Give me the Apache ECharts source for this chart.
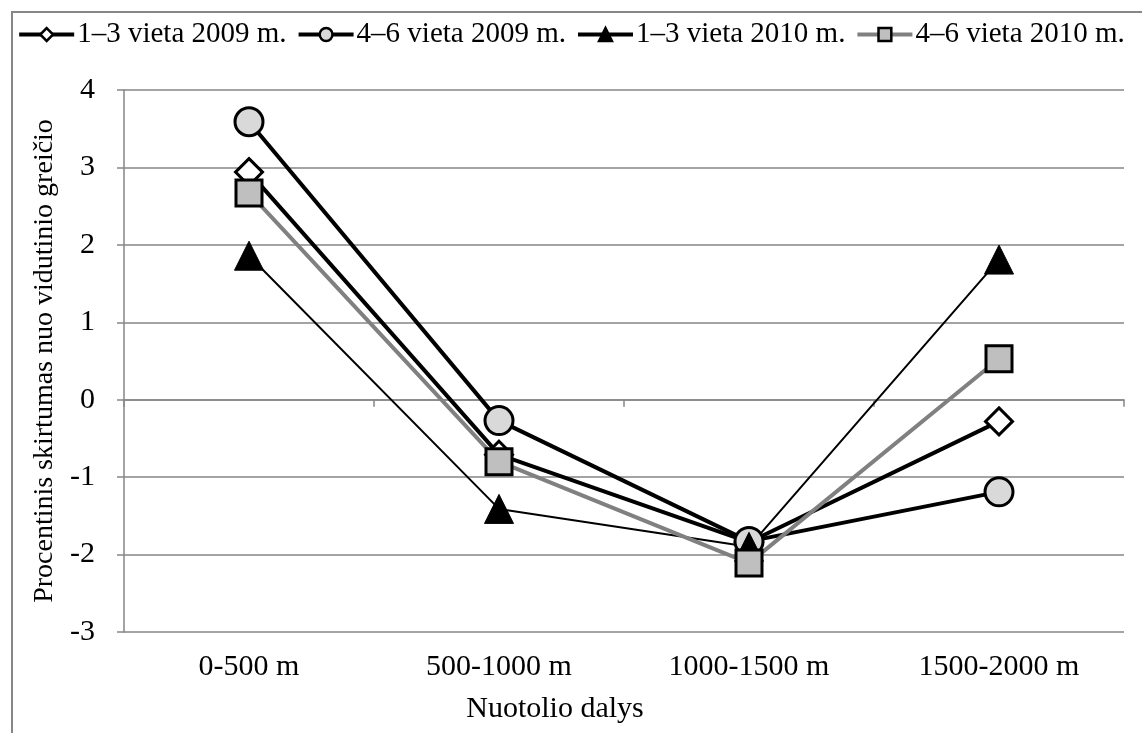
<!DOCTYPE html>
<html>
<head>
<meta charset="utf-8">
<script src="https://cdn.jsdelivr.net/npm/echarts@6/dist/echarts.min.js"></script>
<style>
  html, body { margin: 0; padding: 0; background: #fff; }
  #container { width: 1142px; height: 733px; }
</style>
</head>
<body>
<div id="container"></div>
<script>
var dom = document.getElementById("container");
var myChart = echarts.init(dom);

// data
var categories = ['0-500 m', '500-1000 m', '1000-1500 m', '1500-2000 m'];
var place13_2009 = [2.94, -0.71, -1.84, -0.28];
var place46_2009 = [3.59, -0.27, -1.83, -1.19];
var place13_2010 = [1.86, -1.41, -1.90, 1.81];
var place46_2010 = [2.67, -0.80, -2.11, 0.53];
var seriesNames = ['1–3 vieta 2009 m.', '4–6 vieta 2009 m.', '1–3 vieta 2010 m.', '4–6 vieta 2010 m.'];

var font = 'Liberation Serif';
var axisGray = '#868686';

var option = {
    animation: false,
    textStyle: {fontFamily: font, color: '#000'},
    graphic: [{
        type: 'rect',
        shape: {x: 12, y: 12, width: 1200, height: 800},
        style: {fill: 'none', stroke: axisGray, lineWidth: 2},
        silent: true
    }],
    legend: {
        top: 15,
        left: 'center',
        itemWidth: 55,
        itemHeight: 16,
        itemGap: 10,
        lineStyle: {width: 4},
        itemStyle: {borderWidth: 2.5},
        textStyle: {fontFamily: font, fontSize: 29, color: '#000', padding: [0, 0, 0, -2]},
        data: seriesNames
    },
    grid: {left: 124, right: 18, top: 90, bottom: 101},
    xAxis: [{
        type: 'category',
        data: categories,
        axisLine: {show: false, onZero: false},
        axisTick: {show: false},
        axisLabel: {fontFamily: font, fontSize: 30, color: '#000', margin: 20},
        name: 'Nuotolio dalys',
        nameLocation: 'middle',
        nameGap: 62,
        // title sits left of the plot centre in the original
        nameTextStyle: {fontFamily: font, fontSize: 30, color: '#000', padding: [0, 138, 0, 0]}
    }, {
        type: 'category',
        data: categories,
        position: 'top',
        axisLine: {show: true, onZero: true, lineStyle: {color: axisGray, width: 1.5}},
        axisTick: {show: true, inside: true, length: 7, lineStyle: {color: axisGray, width: 1.5}},
        axisLabel: {show: false},
        splitLine: {show: false}
    }],
    yAxis: {
        type: 'value',
        min: -3,
        max: 4,
        interval: 1,
        axisLine: {show: true, lineStyle: {color: axisGray, width: 1.5}},
        axisTick: {show: true, length: 7, lineStyle: {color: axisGray, width: 1.5}},
        splitLine: {lineStyle: {color: axisGray, width: 1.5}},
        axisLabel: {fontFamily: font, fontSize: 30, color: '#000', margin: 29},
        name: 'Procentinis skirtumas nuo vidutinio greičio',
        nameLocation: 'middle',
        nameGap: 64,
        nameTextStyle: {fontFamily: font, fontSize: 28, color: '#000'}
    },
    series: [{
        name: seriesNames[0],
        type: 'line',
        data: place13_2009,
        symbol: 'diamond',
        symbolSize: 27,
        lineStyle: {color: '#000', width: 4},
        itemStyle: {color: '#fff', borderColor: '#000', borderWidth: 3}
    }, {
        name: seriesNames[1],
        type: 'line',
        data: place46_2009,
        symbol: 'circle',
        symbolSize: 28,
        lineStyle: {color: '#000', width: 4},
        itemStyle: {color: '#d9d9d9', borderColor: '#000', borderWidth: 3}
    }, {
        name: seriesNames[2],
        type: 'line',
        data: place13_2010,
        symbol: 'triangle',
        symbolSize: 29,
        lineStyle: {color: '#000', width: 2},
        itemStyle: {color: '#000', borderColor: '#000', borderWidth: 1}
    }, {
        name: seriesNames[3],
        type: 'line',
        data: place46_2010,
        symbol: 'rect',
        symbolSize: 26,
        lineStyle: {color: '#808080', width: 4},
        itemStyle: {color: '#bfbfbf', borderColor: '#000', borderWidth: 3}
    }]
};

myChart.setOption(option);
</script>
</body>
</html>
